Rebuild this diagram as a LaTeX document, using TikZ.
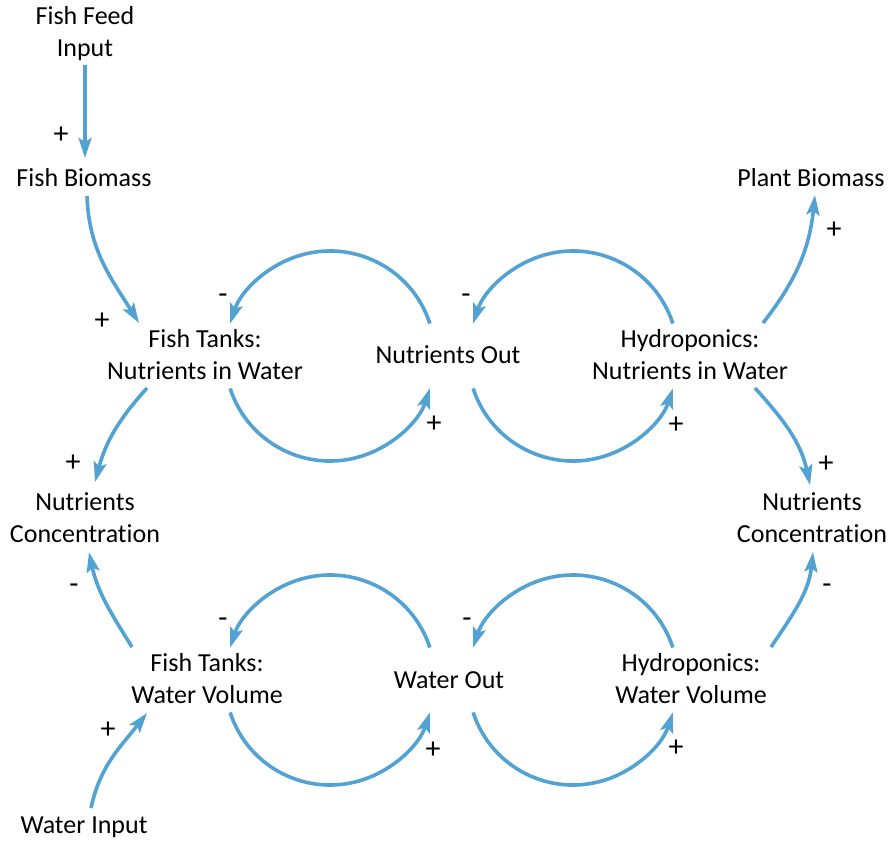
\documentclass[tikz,border=0pt]{standalone}
\usepackage{fontspec}
\setmainfont{Carlito}[Ligatures=NoCommon]
\usetikzlibrary{arrows.meta}
\definecolor{loopblue}{RGB}{82,163,211}
\newcommand{\loopr}{105}
\tikzset{
    var/.style={anchor=base, align=center, inner sep=0pt, font=\fontsize{26}{32}\selectfont},
    sign/.style={anchor=base, inner sep=0pt, font=\fontsize{30}{32}\selectfont},
    link/.style={draw=loopblue, line width=3.6pt, -{Stealth[length=20pt,width=13pt,inset=4pt]}}
}

\begin{document}
\begin{tikzpicture}[x=1pt,y=1pt]
    \useasboundingbox (0,0) rectangle (894,-841);

    \node[var] (feed) at (85,-56) {Fish Feed\\Input};
    \node[var] (fbio) at (84,-186) {Fish Biomass};
    \node[var] (pbio) at (811,-186) {Plant Biomass};
    \node[var] (ftn) at (205,-379) {Fish Tanks:\\Nutrients in Water};
    \node[var] (nout) at (448,-363) {Nutrients Out};
    \node[var] (hyn) at (690,-379) {Hydroponics:\\Nutrients in Water};
    \node[var] (ncl) at (85,-542) {Nutrients\\Concentration};
    \node[var] (ncr) at (812,-542) {Nutrients\\Concentration};
    \node[var] (ftw) at (207,-703) {Fish Tanks:\\Water Volume};
    \node[var] (wout) at (449,-688) {Water Out};
    \node[var] (hyw) at (691,-703) {Hydroponics:\\Water Volume};
    \node[var] (win) at (84,-833) {Water Input};

    \coordinate (cnl) at (330,-356);
    \coordinate (cnr) at (573,-356);
    \coordinate (cwl) at (330,-680);
    \coordinate (cwr) at (573,-680);

    % side links
    \draw[link] ([shift={(0,-9)}]feed.base) -- ([shift={(1,28)}]fbio.base);
    \draw[link] ([shift={(3,-10)}]fbio.base) to[out=-88,in=122] ([shift={(-66,56)}]ftn.base);
    \draw[link] ([shift={(-58,-9)}]ftn.base) to[out=-132,in=75] ([shift={(10,60)}]ncl.base);
    \draw[link] ([shift={(-75,56)}]ftw.base) to[out=122,in=-78] ([shift={(4,-10)}]ncl.base);
    \draw[link] ([shift={(7,25)}]win.base) to[out=78,in=-128] ([shift={(-60,-10)}]ftw.base);
    \draw[link] ([shift={(73,56)}]hyn.base) to[out=52,in=-96] ([shift={(4,-9)}]pbio.base);
    \draw[link] ([shift={(65,-9)}]hyn.base) to[out=-48,in=102] ([shift={(-2,57)}]ncr.base);
    \draw[link] ([shift={(80,56)}]hyw.base) to[out=56,in=-96] ([shift={(1,-10)}]ncr.base);

    % loops
    \draw[link] ([shift={(18:\loopr)}]cnl) arc[start angle=18, end angle=162, radius=\loopr];
    \draw[link] ([shift={(198:\loopr)}]cnl) arc[start angle=198, end angle=342, radius=\loopr];
    \draw[link] ([shift={(18:\loopr)}]cnr) arc[start angle=18, end angle=162, radius=\loopr];
    \draw[link] ([shift={(198:\loopr)}]cnr) arc[start angle=198, end angle=342, radius=\loopr];
    \draw[link] ([shift={(18:\loopr)}]cwl) arc[start angle=18, end angle=162, radius=\loopr];
    \draw[link] ([shift={(198:\loopr)}]cwl) arc[start angle=198, end angle=342, radius=\loopr];
    \draw[link] ([shift={(18:\loopr)}]cwr) arc[start angle=18, end angle=162, radius=\loopr];
    \draw[link] ([shift={(198:\loopr)}]cwr) arc[start angle=198, end angle=342, radius=\loopr];

    % polarities
    \node[sign] (s1) at (61,-143) {+};
    \node[sign] (s2) at (102,-329) {+};
    \node[sign] (s3) at (223,-303) {-};
    \node[sign] (s4) at (466,-303) {-};
    \node[sign] (s5) at (834,-238) {+};
    \node[sign] (s6) at (434,-432) {+};
    \node[sign] (s7) at (676,-433) {+};
    \node[sign] (s8) at (73,-471) {+};
    \node[sign] (s9) at (826,-472) {+};
    \node[sign] (s10) at (74,-593) {-};
    \node[sign] (s11) at (827,-593) {-};
    \node[sign] (s12) at (223,-627) {-};
    \node[sign] (s13) at (467,-627) {-};
    \node[sign] (s14) at (108,-738) {+};
    \node[sign] (s15) at (433,-758) {+};
    \node[sign] (s16) at (676,-756) {+};
\end{tikzpicture}
\end{document}
